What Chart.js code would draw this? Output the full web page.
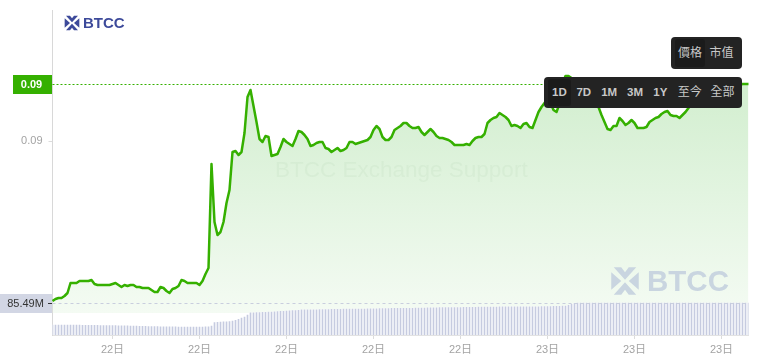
<!DOCTYPE html>
<html>
<head>
<meta charset="utf-8">
<title>BTCC</title>
<script src="https://cdn.jsdelivr.net/npm/chart.js@4"></script>
<style>
    html, body { margin: 0; padding: 0; background: #fff; overflow: hidden; }
    body { width: 757px; height: 362px; position: relative; font-family: "Liberation Sans", "Noto Sans CJK TC", sans-serif; }
    canvas { position: absolute; left: 0; top: 0; }
    .logo { position: absolute; left: 64px; top: 15px; display: flex; align-items: center; }
    .logo svg { width: 16px; height: 16px; fill: #3d4a9a; margin-right: 3px; }
    .logo span { font: bold 15px "Liberation Sans", sans-serif; color: #3d4a9a; line-height: 16px; }
    .mark { position: absolute; left: 610px; top: 266px; display: flex; align-items: center; }
    .mark svg { width: 30px; height: 30px; fill: #c9d5e0; margin-right: 7px; }
    .mark span { font: bold 29.5px "Liberation Sans", sans-serif; color: #c9d5e0; line-height: 30px; }
    .support { position: absolute; left: 275px; top: 157px; font: 22.5px "Liberation Sans", sans-serif; color: rgba(120, 170, 110, 0.07); white-space: nowrap; }
    .menu { position: absolute; background: #232323; border-radius: 4px; color: #c8c8c8; display: flex; align-items: center; font-size: 12px; box-sizing: border-box; white-space: nowrap; }
    .menu span { display: block; text-align: center; }
    .menu .on { background: #1b1b1b; border-radius: 3px; }
    #kind { left: 671px; top: 37px; width: 71px; height: 32px; padding: 0 4px; }
    #kind span { height: 28px; line-height: 28px; }
    #range { left: 544px; top: 77px; width: 198px; height: 31px; padding: 0 4px; font-weight: bold; font-size: 11.5px; }
    #range span { height: 27px; line-height: 27px; }
    #range .cjk { font-weight: normal; font-size: 12px; }
</style>
</head>
<body>
<canvas id="chart" width="757" height="362"></canvas>

<div class="support">BTCC Exchange Support</div>

<div class="logo">
    <svg viewBox="0 0 24 24"><path d="M3 1h6l3 4 3-4h6l-9 10z"/><path d="M3 23h6l3-4 3 4h6l-9-10z"/><path d="M1 5l8 7-8 7zM23 5l-8 7 8 7z"/></svg>
    <span>BTCC</span>
</div>

<div class="mark">
    <svg viewBox="0 0 24 24"><path d="M3 1h6l3 4 3-4h6l-9 10z"/><path d="M3 23h6l3-4 3 4h6l-9-10z"/><path d="M1 5l8 7-8 7zM23 5l-8 7 8 7z"/></svg>
    <span>BTCC</span>
</div>

<div class="menu" id="kind"><span class="on" style="width:31px">價格</span><span style="width:34px">市值</span></div>
<div class="menu" id="range">
    <span class="on" style="width:23px">1D</span><span style="width:26px">7D</span><span style="width:25px">1M</span><span style="width:27px">3M</span><span style="width:24px">1Y</span><span class="cjk" style="width:35px">至今</span><span class="cjk" style="width:31px">全部</span>
</div>

<script>
// Price, one point per volume bar
const priceValues = [
    0.08840, 0.08842, 0.08843, 0.08843, 0.08845, 0.08848, 0.08858, 0.08858, 0.08858, 0.08860,
    0.08860, 0.08860, 0.08860, 0.08861, 0.08857, 0.08856, 0.08856, 0.08856, 0.08856, 0.08856,
    0.08857, 0.08858, 0.08856, 0.08854, 0.08856, 0.08855, 0.08856, 0.08856, 0.08854, 0.08854,
    0.08853, 0.08853, 0.08853, 0.08851, 0.08849, 0.08849, 0.08854, 0.08853, 0.08850, 0.08848,
    0.08852, 0.08853, 0.08855, 0.08861, 0.08860, 0.08858, 0.08858, 0.08858, 0.08858, 0.08856,
    0.08860, 0.08867, 0.08873, 0.08977, 0.08919, 0.08906, 0.08909, 0.08919, 0.08938, 0.08951,
    0.08989, 0.08990, 0.08986, 0.08989, 0.09008, 0.09044, 0.09051, 0.09035, 0.09019, 0.09002,
    0.08999, 0.09005, 0.09004, 0.08985, 0.08986, 0.08987, 0.08994, 0.09002, 0.08999, 0.08997,
    0.08995, 0.09002, 0.09010, 0.09009, 0.09006, 0.09002, 0.08995, 0.08996, 0.08998, 0.08999,
    0.08999, 0.08993, 0.08992, 0.08989, 0.08991, 0.08993, 0.08990, 0.08991, 0.08993, 0.08999,
    0.08999, 0.08997, 0.08998, 0.08999, 0.09000, 0.09001, 0.09004, 0.09011, 0.09015, 0.09012,
    0.09004, 0.09001, 0.09001, 0.09004, 0.09011, 0.09013, 0.09015, 0.09018, 0.09018, 0.09015,
    0.09013, 0.09013, 0.09014, 0.09009, 0.09006, 0.09009, 0.09012, 0.09009, 0.09005, 0.09003,
    0.09003, 0.09002, 0.09001, 0.08999, 0.08996, 0.08996, 0.08996, 0.08996, 0.08997, 0.08996,
    0.09000, 0.09003, 0.09004, 0.09004, 0.09007, 0.09018, 0.09021, 0.09023, 0.09024, 0.09028,
    0.09026, 0.09024, 0.09021, 0.09015, 0.09016, 0.09015, 0.09013, 0.09017, 0.09018, 0.09014,
    0.09013, 0.09021, 0.09029, 0.09034, 0.09038, 0.09041, 0.09038, 0.09031, 0.09029, 0.09037,
    0.09057, 0.09065, 0.09065, 0.09063, 0.09059, 0.09056, 0.09053, 0.09051, 0.09053, 0.09049,
    0.09044, 0.09039, 0.09034, 0.09026, 0.09019, 0.09012, 0.09011, 0.09015, 0.09015, 0.09023,
    0.09020, 0.09016, 0.09018, 0.09021, 0.09018, 0.09013, 0.09013, 0.09013, 0.09014, 0.09019,
    0.09021, 0.09023, 0.09024, 0.09027, 0.09029, 0.09030, 0.09026, 0.09025, 0.09025, 0.09023,
    0.09026, 0.09029, 0.09033, 0.09037, 0.09043, 0.09047, 0.09049, 0.09051, 0.09053, 0.09051,
    0.09054, 0.09055, 0.09053, 0.09056, 0.09055, 0.09057, 0.09056, 0.09055, 0.09057, 0.09056,
    0.09057, 0.09057, 0.09057
];

// Lower pane, in millions
const volumeValues = [
    26.5, 26.5, 26.5, 26.4, 26.4, 26.4, 26.3, 26.3, 26.2, 26.2,
    26.0, 26.0, 25.8, 25.8, 25.6, 25.6, 25.4, 25.4, 25.2, 25.2,
    25.0, 25.0, 24.8, 24.6, 24.4, 24.2, 24.0, 23.8, 23.6, 23.4,
    23.2, 23.0, 22.8, 22.6, 22.4, 22.2, 22.0, 22.0, 21.8, 21.8,
    21.6, 21.6, 21.4, 21.4, 21.4, 21.2, 21.2, 21.2, 21.2, 21.2,
    21.4, 21.6, 22.0, 24.0, 33.5, 34.0, 34.5, 35.0, 35.5, 36.0,
    37.0, 39.0, 42.0, 45.0, 48.0, 53.0, 59.0, 59.5, 60.0, 60.0,
    60.5, 60.5, 61.0, 61.5, 62.0, 62.5, 63.0, 63.5, 64.0, 64.5,
    65.0, 65.5, 66.0, 67.0, 67.0, 67.0, 67.5, 67.5, 67.5, 68.0,
    68.0, 68.0, 68.0, 68.5, 68.5, 68.5, 68.5, 69.0, 69.0, 69.0,
    69.0, 69.5, 69.5, 69.5, 69.5, 70.0, 70.0, 70.0, 70.0, 70.5,
    70.5, 70.5, 70.5, 71.0, 71.0, 71.0, 71.0, 71.5, 71.5, 71.5,
    71.5, 72.0, 72.0, 72.0, 72.0, 72.5, 72.5, 72.5, 72.5, 73.0,
    73.0, 73.0, 73.0, 73.5, 73.5, 73.5, 73.5, 74.0, 74.0, 74.0,
    74.0, 74.0, 74.5, 74.5, 74.5, 74.5, 74.5, 74.5, 74.5, 75.0,
    75.0, 75.0, 75.0, 75.0, 75.0, 75.0, 75.0, 75.0, 75.0, 75.0,
    75.0, 75.2, 75.4, 75.6, 75.8, 76.0, 76.2, 76.4, 76.6, 76.8,
    77.0, 77.5, 79.0, 82.0, 84.5, 85.0, 85.2, 85.2, 85.3, 85.3,
    85.3, 85.3, 85.4, 85.4, 85.4, 85.4, 85.4, 85.4, 85.4, 85.4,
    85.4, 85.4, 85.4, 85.4, 85.4, 85.4, 85.4, 85.4, 85.4, 85.4,
    85.4, 85.4, 85.4, 85.4, 85.4, 85.4, 85.4, 85.4, 85.4, 85.4,
    85.4, 85.4, 85.4, 85.4, 85.4, 85.4, 85.4, 85.4, 85.4, 85.4,
    85.4, 85.5, 85.5, 85.5, 85.5, 85.5, 85.5, 85.5, 85.5, 85.5,
    85.49, 85.49, 85.49
];

// The axis only shows the day, so most of these repeat
const dayLabels = priceValues.map((v, i) => (i < 150 ? '22日' : '23日'));
const tickIndexes = [20, 49, 78, 107, 136, 165, 194, 223];
const priceTicks = [0.09];

const lastPrice = priceValues[priceValues.length - 1];
const lastVolume = volumeValues[volumeValues.length - 1];

// Dashed lines and the two boxes on the left axis
const lastValuePlugin = {
    id: 'lastValue',
    afterDatasetsDraw(chart) {
        const { ctx, chartArea, scales } = chart;
        const priceY = Math.round(scales.y.getPixelForValue(lastPrice)) + 0.5;
        const volumeY = Math.round(scales.y1.getPixelForValue(lastVolume)) + 0.5;

        ctx.save();
        ctx.lineWidth = 1;

        ctx.setLineDash([3, 3]);
        ctx.strokeStyle = '#c9cede';
        ctx.beginPath();
        ctx.moveTo(chartArea.left, volumeY);
        ctx.lineTo(chartArea.right, volumeY);
        ctx.stroke();

        ctx.setLineDash([2, 2]);
        ctx.strokeStyle = '#35b000';
        ctx.beginPath();
        ctx.moveTo(chartArea.left - 4, priceY);
        ctx.lineTo(chartArea.right, priceY);
        ctx.stroke();
        ctx.setLineDash([]);

        ctx.textAlign = 'center';
        ctx.textBaseline = 'middle';

        ctx.fillStyle = '#35b000';
        ctx.fillRect(13, priceY - 9.5, 39, 19);
        ctx.fillStyle = '#fff';
        ctx.font = 'bold 11px "Liberation Sans", sans-serif';
        ctx.fillText(lastPrice.toFixed(2), 31.5, priceY + 0.5);

        ctx.fillStyle = '#d2d6e4';
        ctx.fillRect(0, volumeY - 9.5, 52, 19);
        ctx.fillStyle = '#333';
        ctx.font = '11px "Liberation Sans", sans-serif';
        ctx.fillText(lastVolume.toFixed(2) + 'M', 25.5, volumeY + 0.5);
        ctx.fillRect(48, volumeY - 0.5, 4, 1);

        ctx.restore();
    }
};

const ctx = document.getElementById('chart').getContext('2d');
const fillGradient = ctx.createLinearGradient(0, 84, 0, 313);
fillGradient.addColorStop(0, '#d2eecf');
fillGradient.addColorStop(1, '#f4fbf3');

new Chart(ctx, {
    type: 'bar',
    data: {
        labels: dayLabels,
        datasets: [
            {
                type: 'line',
                data: priceValues,
                yAxisID: 'y',
                borderColor: '#35b000',
                borderWidth: 2.5,
                borderJoinStyle: 'round',
                pointRadius: 0,
                tension: 0,
                backgroundColor: fillGradient,
                fill: { value: 0.08828 },
                order: 3
            },
            {
                // white under each bar so the green stops at the top of the pane
                data: volumeValues,
                yAxisID: 'y1',
                backgroundColor: '#ffffff',
                barThickness: 3,
                grouped: false,
                order: 2
            },
            {
                data: volumeValues,
                yAxisID: 'y1',
                backgroundColor: '#c6cbe0',
                barThickness: 1,
                grouped: false,
                order: 1
            }
        ]
    },
    options: {
        responsive: false,
        animation: false,
        // half pixels so the 1px bars land on whole pixel columns
        layout: { padding: { top: 10, right: 8.5, left: 0.5, bottom: 0 } },
        plugins: { legend: { display: false }, tooltip: { enabled: false } },
        scales: {
            x: {
                offset: false,
                grid: { offset: false, drawOnChartArea: false, tickLength: 4, tickColor: '#dcdcdc' },
                border: { color: '#e2e2e2' },
                ticks: {
                    autoSkip: false,
                    maxRotation: 0,
                    padding: 4,
                    color: '#a3a3a3',
                    font: { size: 11, family: '"Liberation Sans", "Noto Sans CJK TC", sans-serif' }
                },
                afterBuildTicks: axis => { axis.ticks = tickIndexes.map(v => ({ value: v })); },
                afterFit: axis => { axis.height = 27; axis.paddingLeft = 0; axis.paddingRight = 0; }
            },
            y: {
                position: 'left',
                min: 0.08806,
                max: 0.09131,
                grid: { drawOnChartArea: false, tickLength: 4, tickColor: '#dcdcdc' },
                border: { color: '#d8d8d8' },
                ticks: {
                    padding: 6,
                    color: '#a3a3a3',
                    font: { size: 11, family: '"Liberation Sans", sans-serif' },
                    callback: value => value.toFixed(2)
                },
                afterBuildTicks: axis => { axis.ticks = priceTicks.map(v => ({ value: v })); },
                afterFit: axis => { axis.width = 52; axis.paddingTop = 0; axis.paddingBottom = 0; }
            },
            y1: {
                display: false,
                min: 0,
                max: 868
            }
        }
    },
    plugins: [lastValuePlugin]
});
</script>
</body>
</html>
